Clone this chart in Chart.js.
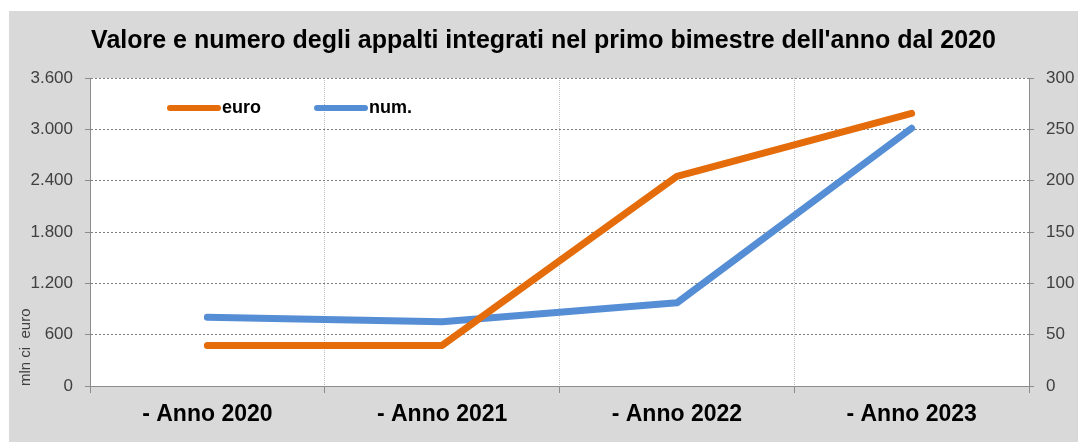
<!DOCTYPE html>
<html lang="it">
<head>
    <meta charset="utf-8">
    <title>Appalti integrati</title>
    <script src="https://cdn.jsdelivr.net/npm/chart.js@4.4.8/dist/chart.umd.min.js"></script>
    <style>
        html, body { margin: 0; padding: 0; background: #ffffff; }
        #wrap { width: 1078px; height: 442px; }
    </style>
</head>
<body>
    <div id="wrap"><canvas id="chart" width="1078" height="442"></canvas></div>

    <script>
        // dati
        const categories = ['- Anno 2020', '- Anno 2021', '- Anno 2022', '- Anno 2023'];
        const euroValues = [474, 474, 2450, 3186];   // mln di euro (asse sinistro)
        const numValues = [67, 62.5, 81, 251];        // numero (asse destro)
        const leftTicks = [0, 600, 1200, 1800, 2400, 3000, 3600];
        const rightTicks = [0, 50, 100, 150, 200, 250, 300];

        const ORANGE = 'rgb(228, 108, 10)';
        const BLUE = 'rgb(85, 142, 213)';
        const TICK_COLOR = '#404040';
        const AXIS_COLOR = '#8c8c8c';

        // separatore delle migliaia con il punto: 3600 -> 3.600
        function fmt(v) {
            return String(v).replace(/\B(?=(\d{3})+(?!\d))/g, '.');
        }

        // sfondo grigio + area del grafico bianca
        const backgroundPlugin = {
            id: 'bg',
            beforeDraw(chart) {
                const { ctx, chartArea } = chart;
                ctx.save();
                ctx.fillStyle = '#ffffff';
                ctx.fillRect(0, 0, chart.width, chart.height);
                ctx.fillStyle = '#d9d9d9';
                ctx.fillRect(9, 11, chart.width - 9, chart.height - 11);
                ctx.fillStyle = '#ffffff';
                ctx.fillRect(chartArea.left, chartArea.top,
                    chartArea.right - chartArea.left, chartArea.bottom - chartArea.top);
                ctx.restore();
            }
        };

        // legenda dentro l'area del grafico, in alto a sinistra
        const innerLegend = {
            id: 'innerLegend',
            afterDatasetsDraw(chart) {
                const { ctx, chartArea } = chart;
                const y = chartArea.top + 30;
                ctx.save();
                chart.data.datasets.forEach((ds, i) => {
                    const x0 = chartArea.left + 80 + i * 147;
                    ctx.strokeStyle = ds.borderColor;
                    ctx.lineWidth = 6;
                    ctx.lineCap = 'round';
                    ctx.beginPath();
                    ctx.moveTo(x0, y);
                    ctx.lineTo(x0 + 48, y);
                    ctx.stroke();
                    ctx.fillStyle = '#000000';
                    ctx.font = 'bold 18px "Liberation Sans", Arial, sans-serif';
                    ctx.textBaseline = 'middle';
                    ctx.textAlign = 'left';
                    ctx.fillText(ds.label, x0 + 52, y);
                });
                ctx.restore();
            }
        };

        const ctx = document.getElementById('chart').getContext('2d');
        new Chart(ctx, {
            type: 'line',
            data: {
                labels: categories,
                datasets: [
                    {
                        label: 'euro',
                        data: euroValues,
                        borderColor: ORANGE,
                        backgroundColor: ORANGE,
                        borderWidth: 7,
                        borderCapStyle: 'round',
                        borderJoinStyle: 'round',
                        pointRadius: 0,
                        tension: 0,
                        yAxisID: 'y'
                    },
                    {
                        label: 'num.',
                        data: numValues,
                        borderColor: BLUE,
                        backgroundColor: BLUE,
                        borderWidth: 7,
                        borderCapStyle: 'round',
                        borderJoinStyle: 'round',
                        pointRadius: 0,
                        tension: 0,
                        yAxisID: 'y2'
                    }
                ]
            },
            options: {
                responsive: false,
                animation: false,
                events: [],
                layout: {
                    padding: { left: 9, right: 0, top: 0, bottom: 0 }
                },
                plugins: {
                    legend: { display: false },
                    tooltip: { enabled: false },
                    title: {
                        display: true,
                        text: "Valore e numero degli appalti integrati nel primo bimestre dell'anno dal 2020",
                        color: '#000000',
                        font: { family: '"Liberation Sans", Arial, sans-serif', size: 25, weight: 'bold', lineHeight: 1.2 },
                        padding: { top: 26, bottom: 22 }
                    }
                },
                scales: {
                    x: {
                        offset: true,
                        afterFit(scale) { scale.height = 56; },
                        border: { display: true, color: AXIS_COLOR, width: 1, dash: [1, 1] },
                        grid: {
                            offset: true,
                            color: '#bfbfbf',
                            lineWidth: 1,
                            tickLength: 7,
                            tickColor: AXIS_COLOR,
                            tickBorderDash: []
                        },
                        ticks: {
                            color: '#000000',
                            padding: 8,
                            maxRotation: 0,
                            font: { family: '"Liberation Sans", Arial, sans-serif', size: 23, weight: 'bold' }
                        }
                    },
                    y: {
                        position: 'left',
                        min: 0,
                        max: 3600,
                        afterFit(scale) { scale.width = 81; },
                        afterBuildTicks(scale) { scale.ticks = leftTicks.map(v => ({ value: v })); },
                        border: { display: true, color: AXIS_COLOR, width: 1, dash: [2, 2] },
                        grid: {
                            color: '#7f7f7f',
                            lineWidth: 1,
                            tickLength: 5,
                            tickColor: AXIS_COLOR,
                            tickBorderDash: []
                        },
                        ticks: {
                            color: TICK_COLOR,
                            padding: 12,
                            font: { family: '"Liberation Sans", Arial, sans-serif', size: 17 },
                            callback: v => fmt(v)
                        },
                        title: {
                            display: true,
                            text: 'mln ci  euro',
                            align: 'start',
                            color: TICK_COLOR,
                            font: { family: '"Liberation Sans", Arial, sans-serif', size: 15 },
                            padding: { top: 8, bottom: 0 }
                        }
                    },
                    y2: {
                        position: 'right',
                        min: 0,
                        max: 300,
                        afterFit(scale) { scale.width = 49; },
                        afterBuildTicks(scale) { scale.ticks = rightTicks.map(v => ({ value: v })); },
                        border: { display: true, color: AXIS_COLOR, width: 1 },
                        grid: {
                            drawOnChartArea: false,
                            tickLength: 5,
                            tickColor: AXIS_COLOR
                        },
                        ticks: {
                            color: TICK_COLOR,
                            padding: 12,
                            font: { family: '"Liberation Sans", Arial, sans-serif', size: 17 }
                        }
                    }
                }
            },
            plugins: [backgroundPlugin, innerLegend]
        });
    </script>
</body>
</html>
